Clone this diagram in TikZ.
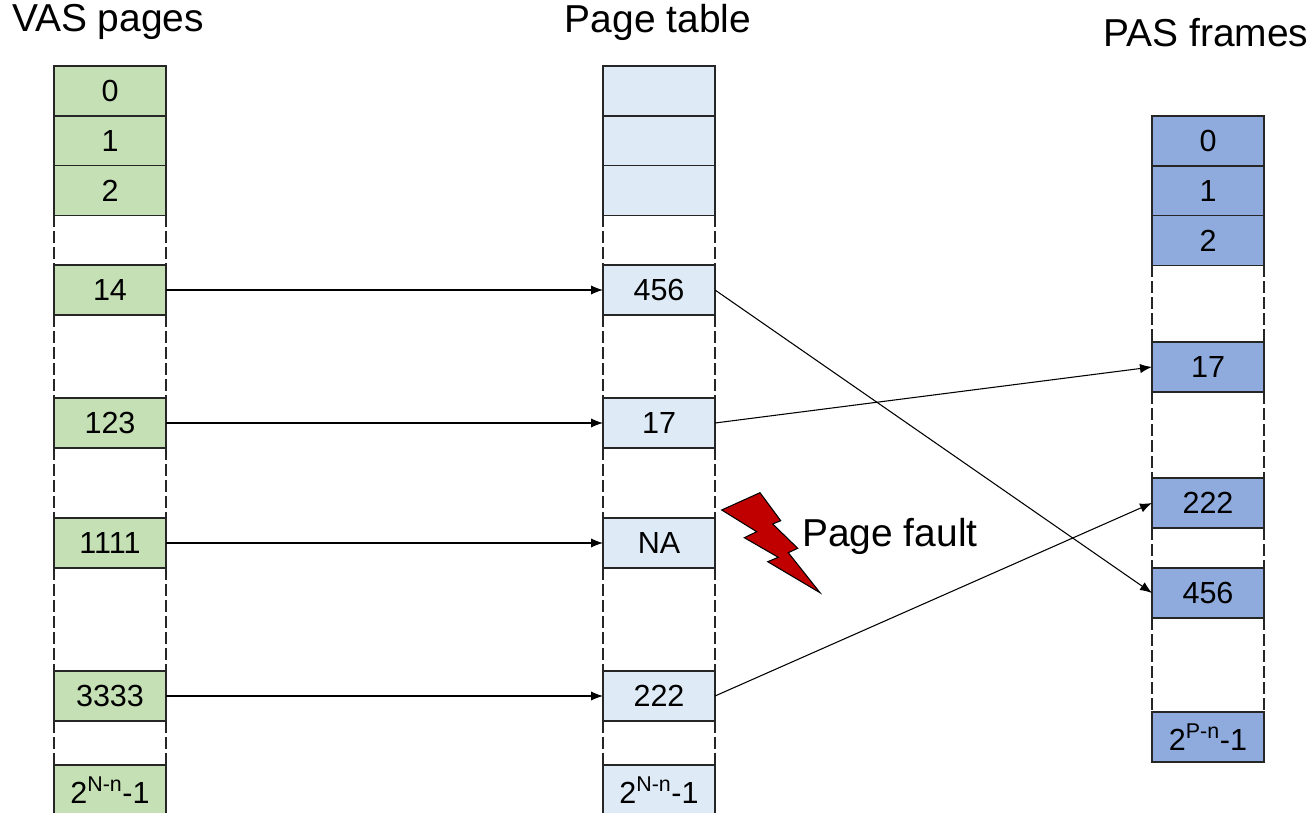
\documentclass[tikz,border=0pt]{standalone}
\usepackage{fontspec}
\setmainfont{Liberation Sans}
\usetikzlibrary{arrows.meta}
\definecolor{vasc}{HTML}{C5E0B4}
\definecolor{ptc}{HTML}{DEEBF7}
\definecolor{pasc}{HTML}{8FAADC}
\definecolor{boltc}{HTML}{C00000}
\tikzset{
  cell/.style={draw=black!85,line width=1pt,minimum width=84pt,minimum height=37.5pt,inner sep=0pt,outer sep=0pt,font=\fontsize{22.9}{26}\selectfont},
  vascell/.style={cell,fill=vasc},
  ptcell/.style={cell,fill=ptc},
  pascell/.style={cell,fill=pasc},
  gap/.style={draw=black!85,line width=1pt,dash pattern=on 9pt off 3pt},
  link/.style={draw=black,line width=0.8pt,-{Latex[length=9pt,width=7pt]},shorten >=0pt},
  title/.style={font=\fontsize{29.2}{33}\selectfont,inner sep=0pt},
}
\newcommand{\supN}{2\textsuperscript{N-n}-1}
\newcommand{\supP}{2\textsuperscript{P-n}-1}
\begin{document}
\begin{tikzpicture}[x=0.75pt,y=-0.75pt]
\useasboundingbox (0,0) rectangle (1315,813);
\node[title] (tv) at (108,22) {VAS pages};
\node[title] (tp) at (658,22) {Page table};
\node[title] (tf) at (1206,33) {PAS frames};
% VAS
\node[vascell] (v0) at (110,91) {0};
\node[vascell] (v1) at (110,141) {1};
\node[vascell] (v2) at (110,190.5) {2};
\node[vascell] (v14) at (110,290) {14};
\node[vascell] (v123) at (110,423) {123};
\node[vascell] (v1111) at (110,543) {1111};
\node[vascell] (v3333) at (110,696) {3333};
\node[vascell] (vN) at (110,790) {\supN};
% Page table
\node[ptcell] (p0) at (659,91) {};
\node[ptcell] (p1) at (659,141) {};
\node[ptcell] (p2) at (659,190.5) {};
\node[ptcell] (p14) at (659,290) {456};
\node[ptcell] (p123) at (659,423) {17};
\node[ptcell] (p1111) at (659,543) {NA};
\node[ptcell] (p3333) at (659,696) {222};
\node[ptcell] (pN) at (659,790) {\supN};
% PAS
\node[pascell] (f0) at (1208,141) {0};
\node[pascell] (f1) at (1208,191) {1};
\node[pascell] (f2) at (1208,240.5) {2};
\node[pascell] (f17) at (1208,367) {17};
\node[pascell] (f222) at (1208,503) {222};
\node[pascell] (f456) at (1208,593) {456};
\node[pascell] (fP) at (1208,737) {\supP};
% dashed sides
\foreach \a/\b in {v2/v14,v14/v123,v123/v1111,v1111/v3333,v3333/vN,p2/p14,p14/p123,p123/p1111,p1111/p3333,p3333/pN,f2/f17,f17/f222,f222/f456,f456/fP}{
  \draw[gap] (\a.south west) -- (\b.north west);
  \draw[gap] (\a.south east) -- (\b.north east);
}
% connectors
\draw[link] (v14) -- (p14);
\draw[link] (v123) -- (p123);
\draw[link] (v1111) -- (p1111);
\draw[link] (v3333) -- (p3333);
\draw[link] (p14.east) -- (f456.west);
\draw[link] (p123.east) -- (f17.west);
\draw[link] (p3333.east) -- (f222.west);
% bolt
\draw[fill=boltc,draw=black,line width=0.8pt,line join=miter] (721.7,510) -- (760,492.7) -- (780.7,520.7) -- (772.7,524) -- (797.7,548.3) -- (788.3,552.7) -- (820,592.7) -- (767.7,561.7) -- (778.3,557.3) -- (744.3,537.7) -- (756.7,531.7) -- cycle;
\node[title,anchor=west] (pf) at (802,536) {Page fault};
\end{tikzpicture}
\end{document}
